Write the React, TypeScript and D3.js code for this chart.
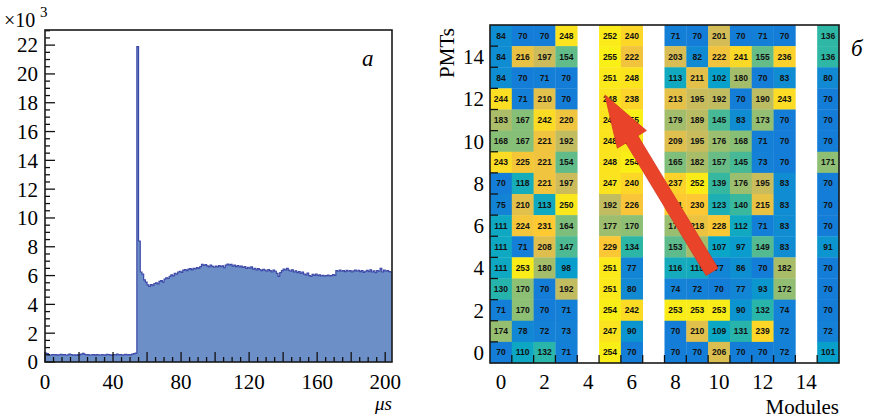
import React from 'react';
import * as d3 from 'd3';

const W = 873;
const H = 419;

// time spectrum, 1 us bins starting at 0, counts in units of 10^3
const timeCounts = [
  0.62, 0.58, 0.50, 0.47, 0.52, 0.49, 0.51, 0.48, 0.50, 0.53,
  0.49, 0.52, 0.47, 0.50, 0.55, 0.51, 0.48, 0.50, 0.46, 0.52,
  0.50, 0.54, 0.60, 0.53, 0.49, 0.51, 0.47, 0.50, 0.52, 0.48,
  0.51, 0.49, 0.47, 0.52, 0.50, 0.48, 0.53, 0.51, 0.49, 0.46,
  0.52, 0.50, 0.55, 0.49, 0.51, 0.48, 0.50, 0.53, 0.49, 0.52,
  0.50, 0.54, 0.58, 0.62, 21.9, 8.4, 6.25, 6.1, 5.7, 5.55,
  5.35, 5.25, 5.38, 5.32, 5.45, 5.5, 5.42, 5.6, 5.65, 5.55,
  5.75, 5.85, 5.8, 5.95, 6.05, 5.98, 6.15, 6.1, 6.25, 6.3,
  6.22, 6.38, 6.42, 6.35, 6.45, 6.48, 6.4, 6.5, 6.46, 6.55,
  6.5, 6.62, 6.78, 6.7, 6.76, 6.68, 6.6, 6.72, 6.64, 6.58,
  6.66, 6.6, 6.7, 6.62, 6.68, 6.55, 6.72, 6.8, 6.74, 6.78,
  6.66, 6.72, 6.62, 6.7, 6.6, 6.65, 6.56, 6.62, 6.5, 6.58,
  6.52, 6.6, 6.45, 6.5, 6.4, 6.48, 6.42, 6.35, 6.44, 6.38,
  6.3, 6.42, 6.35, 6.25, 6.38, 6.3, 6.15, 5.95, 6.2, 6.35,
  6.45, 6.4, 6.5, 6.38, 6.3, 6.4, 6.25, 6.32, 6.2, 6.28,
  6.15, 6.25, 6.1, 6.05, 6.18, 6.0, 5.95, 6.08, 6.02, 6.1,
  6.0, 6.05, 5.98, 6.02, 5.96, 6.0, 6.04, 5.98, 6.0, 6.06,
  6.02, 6.35, 6.3, 6.38, 6.3, 6.34, 6.28, 6.36, 6.3, 6.35,
  6.25, 6.32, 6.38, 6.3, 6.36, 6.28, 6.35, 6.22, 6.3, 6.36,
  6.28, 6.4, 6.25, 6.32, 6.2, 6.35, 6.3, 6.5, 6.25, 6.38,
  6.3, 6.35, 6.28, 6.25,
];
const timeTicks = [0, 40, 80, 120, 160, 200];
const countTicks = [0, 2, 4, 6, 8, 10, 12, 14, 16, 18, 20, 22];

// PMT map: rows from PMT 15 down to PMT 0, columns = modules 0..15, null = no module
const pmtCounts = [
  [84, 70, 70, 248, null, 252, 240, null, 71, 70, 201, 70, 71, 70, null, 136],
  [84, 216, 197, 154, null, 255, 222, null, 203, 82, 222, 241, 155, 236, null, 136],
  [84, 70, 71, 70, null, 251, 248, null, 113, 211, 102, 180, 70, 83, null, 80],
  [244, 71, 210, 70, null, 248, 238, null, 213, 195, 192, 70, 190, 243, null, 70],
  [183, 167, 242, 220, null, 248, 255, null, 179, 189, 145, 83, 173, 70, null, 70],
  [168, 167, 221, 192, null, 248, 250, null, 209, 195, 176, 168, 71, 70, null, 70],
  [243, 225, 221, 154, null, 248, 254, null, 165, 182, 157, 145, 73, 70, null, 171],
  [70, 118, 221, 197, null, 247, 240, null, 237, 252, 139, 176, 195, 83, null, 70],
  [75, 210, 113, 250, null, 192, 226, null, 231, 230, 123, 140, 215, 83, null, 70],
  [111, 224, 231, 164, null, 177, 170, null, 175, 218, 228, 112, 71, 83, null, 70],
  [111, 71, 208, 147, null, 229, 134, null, 153, 180, 107, 97, 149, 83, null, 91],
  [111, 253, 180, 98, null, 251, 77, null, 116, 115, 77, 86, 70, 182, null, 70],
  [130, 170, 70, 192, null, 251, 80, null, 74, 72, 70, 77, 93, 172, null, 70],
  [71, 170, 70, 71, null, 254, 242, null, 253, 253, 253, 90, 132, 74, null, 70],
  [174, 78, 72, 73, null, 247, 90, null, 70, 210, 109, 131, 239, 72, null, 72],
  [70, 110, 132, 71, null, 254, 70, null, 70, 70, 206, 70, 70, 72, null, 101],
];
const moduleTicks = [0, 2, 4, 6, 8, 10, 12, 14];
const pmtTicks = [0, 2, 4, 6, 8, 10, 12, 14];

// ROOT kBird palette
const birdStops = [0, 0.125, 0.25, 0.375, 0.5, 0.625, 0.75, 0.875, 1];
const birdColors = ['#352a87', '#0f5cdd', '#1481d6', '#06a4ca', '#2eb7a4', '#87bf77', '#d1bb59', '#fec832', '#f9fb0e'];

// arrow in (module, PMT) units
const arrowTail = [10.18, 4.31];
const arrowTip = [5.27, 12.69];

const serif = '"Liberation Serif", "DejaVu Serif", serif';

function TimeHist() {
  const x = d3.scaleLinear().domain([0, 204]).range([45, 392]);
  const y = d3.scaleLinear().domain([0, 23.05]).range([362, 30]);

  const pts: [number, number][] = timeCounts.map((v, i) => [i, v]);
  pts.push([timeCounts.length, timeCounts[timeCounts.length - 1]]);

  const area = d3.area<[number, number]>()
    .x(d => x(d[0]))
    .y0(y(0))
    .y1(d => y(d[1]))
    .curve(d3.curveStepAfter);
  const line = d3.line<[number, number]>()
    .x(d => x(d[0]))
    .y(d => y(d[1]))
    .curve(d3.curveStepAfter);

  const minorY = d3.range(0, 23.01, 0.5);
  const minorX = d3.range(0, 204, 5);

  return (
    <g>
      <path d={area(pts) || ''} fill="#6d8fc8" />
      <path d={line(pts) || ''} fill="none" stroke="#3d4aa8" strokeWidth={1.2} />

      {minorY.map(v => (
        <line key={'my' + v} x1={x(0)} x2={x(0) + (v % 2 === 0 ? 10 : 5)} y1={y(v)} y2={y(v)} stroke="#111" strokeWidth={1.3} />
      ))}
      {minorX.map(v => (
        <line key={'mx' + v} y1={y(0)} y2={y(0) - (v % 20 === 0 ? 10 : 5)} x1={x(v)} x2={x(v)} stroke="#111" strokeWidth={1.3} />
      ))}

      <rect x={x(0)} y={y(23.05)} width={x(204) - x(0)} height={y(0) - y(23.05)} fill="none" stroke="#1a1a1a" strokeWidth={1.6} />

      {countTicks.map(v => (
        <text key={'ty' + v} x={38} y={y(v)} dy="0.35em" textAnchor="end" fontFamily={serif} fontSize={21}>{v}</text>
      ))}
      {timeTicks.map(v => (
        <text key={'tx' + v} x={x(v)} y={389} textAnchor="middle" fontFamily={serif} fontSize={21}>{v}</text>
      ))}

      <text x={4} y={27} fontFamily={serif} fontSize={20}>×10</text>
      <text x={40} y={17} fontFamily={serif} fontSize={15}>3</text>
      <text x={362} y={66} fontFamily={serif} fontSize={23} fontStyle="italic">а</text>
      <text x={392} y={410} textAnchor="end" fontFamily={serif} fontSize={19} fontStyle="italic">μs</text>
    </g>
  );
}

function PmtMap() {
  const x = d3.scaleLinear().domain([0, 16]).range([490, 839]);
  const y = d3.scaleLinear().domain([0, 16]).range([363, 25]);
  const color = d3.scaleLinear<string>()
    .domain(birdStops.map(s => 10 + s * 252))
    .range(birdColors)
    .clamp(true);

  const cw = x(1) - x(0);
  const ch = y(0) - y(1);

  const cells: { m: number; p: number; v: number }[] = [];
  pmtCounts.forEach((row, r) => {
    const p = 15 - r;
    row.forEach((v, m) => {
      if (v !== null) cells.push({ m, p, v });
    });
  });

  // arrow polygon
  const tx = x(arrowTail[0]), ty = y(arrowTail[1]);
  const hx = x(arrowTip[0]), hy = y(arrowTip[1]);
  const len = Math.hypot(hx - tx, hy - ty);
  const ux = (hx - tx) / len, uy = (hy - ty) / len;
  const nx = -uy, ny = ux;
  const shaft = 7, head = 17, headLen = 52;
  const bx = hx - ux * headLen, by = hy - uy * headLen;
  const arrow = [
    [tx + nx * shaft, ty + ny * shaft],
    [bx + nx * shaft, by + ny * shaft],
    [bx + nx * head, by + ny * head],
    [hx, hy],
    [bx - nx * head, by - ny * head],
    [bx - nx * shaft, by - ny * shaft],
    [tx - nx * shaft, ty - ny * shaft],
  ].map(p => p.join(',')).join(' ');

  const boundaries = d3.range(1, 16);

  return (
    <g>
      {cells.map(c => (
        <rect key={c.m + '-' + c.p} x={x(c.m)} y={y(c.p + 1)} width={cw + 0.3} height={ch + 0.3} fill={color(c.v)} />
      ))}
      {cells.map(c => (
        <text key={'t' + c.m + '-' + c.p} x={x(c.m + 0.5)} y={y(c.p + 0.5)} dy="0.35em" textAnchor="middle"
          fontFamily='"Liberation Sans", Arial, sans-serif' fontWeight="bold" fontSize={8.5} fill="#111">{c.v}</text>
      ))}

      {boundaries.map(b => (
        <line key={'bx' + b} x1={x(b)} x2={x(b)} y1={y(0)} y2={y(0) - 8} stroke="#111" strokeWidth={1.3} />
      ))}
      {boundaries.map(b => (
        <line key={'by' + b} x1={x(0)} x2={x(0) + 8} y1={y(b)} y2={y(b)} stroke="#111" strokeWidth={1.3} />
      ))}

      <rect x={x(0)} y={y(16)} width={x(16) - x(0)} height={y(0) - y(16)} fill="none" stroke="#1a1a1a" strokeWidth={1.6} />

      <polygon points={arrow} fill="#e9432a" stroke="#d63a22" strokeWidth={0.8} />

      {pmtTicks.map(v => (
        <text key={'py' + v} x={484} y={y(v + 0.5)} dy="0.35em" textAnchor="end" fontFamily={serif} fontSize={21}>{v}</text>
      ))}
      {moduleTicks.map(v => (
        <text key={'mx' + v} x={x(v + 0.5)} y={389} textAnchor="middle" fontFamily={serif} fontSize={21}>{v}</text>
      ))}

      <text x={839} y={414} textAnchor="end" fontFamily={serif} fontSize={21}>Modules</text>
      <text transform="translate(454,28) rotate(-90)" textAnchor="end" fontFamily={serif} fontSize={21}>PMTs</text>
      <text x={851} y={56} fontFamily={serif} fontSize={23} fontStyle="italic">б</text>
    </g>
  );
}

export default function App() {
  return (
    <svg width={W} height={H} viewBox={`0 0 ${W} ${H}`}
      style={{ position: 'absolute', left: 0, top: 0, background: '#fff' }}>
      <TimeHist />
      <PmtMap />
    </svg>
  );
}
